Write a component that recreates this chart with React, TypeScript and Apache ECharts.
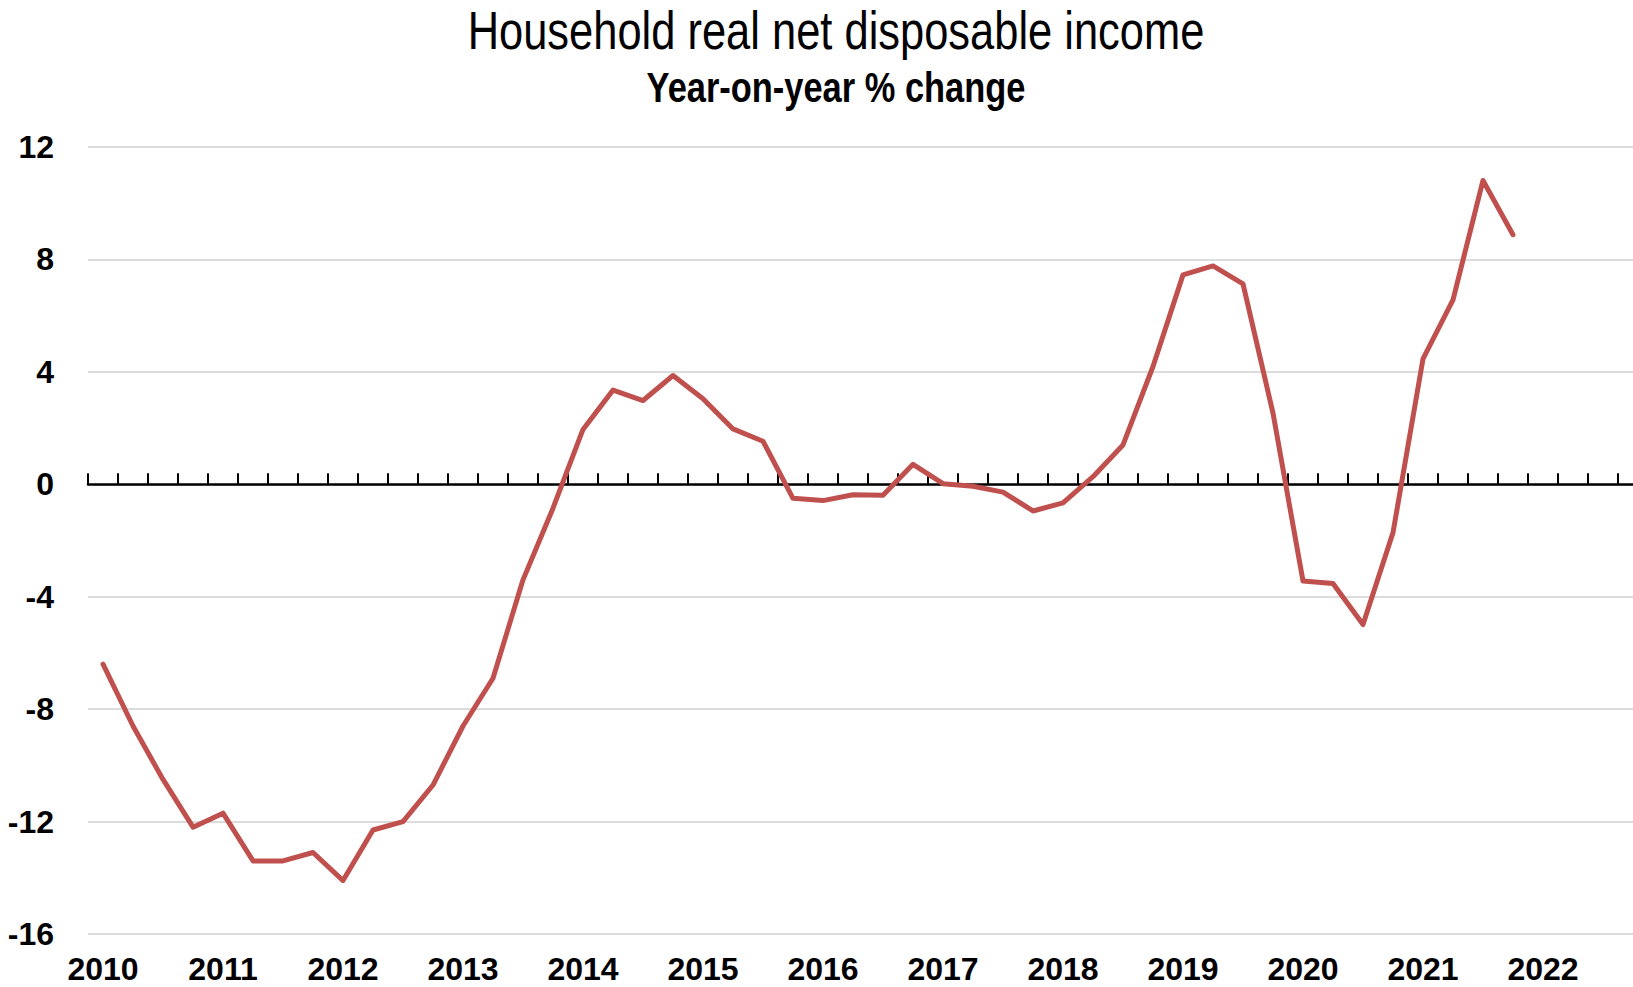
import React, { useEffect, useRef } from "react";
import * as echarts from "echarts";

const years = ["2010", "2011", "2012", "2013", "2014", "2015", "2016", "2017", "2018", "2019", "2020", "2021", "2022"];
const quarters = ["Q1", "Q2", "Q3", "Q4"];
const categories: string[] = years.flatMap((y) => quarters.map((q) => `${y} ${q}`));

// Year-on-year % change, quarterly from 2010 Q1 to 2021 Q4
const incomeChange = [
  -6.4, -8.6, -10.5, -12.2,
  -11.7, -13.4, -13.4, -13.1,
  -14.1, -12.3, -12.0, -10.7,
  -8.6, -6.9, -3.4, -0.85,
  1.95, 3.35, 2.98, 3.87,
  3.04, 1.97, 1.53, -0.5,
  -0.58, -0.37, -0.39, 0.71,
  0.02, -0.07, -0.28, -0.95,
  -0.66, 0.27, 1.4, 4.19,
  7.45, 7.77, 7.13, 2.53,
  -3.44, -3.53, -4.99, -1.72,
  4.46, 6.56, 10.81, 8.88,
];

const yTicks = { min: -16, max: 12, interval: 4 };

const FONT = "'Liberation Sans', Arial, sans-serif";

export default function App() {
  const ref = useRef<HTMLDivElement>(null);
  useEffect(() => {
    if (!ref.current) return;
    const chart = echarts.init(ref.current, undefined, { renderer: "svg" });
    chart.setOption({
      animation: false,
      backgroundColor: "#ffffff",
      graphic: [
        {
          type: "text",
          x: 836,
          y: 30,
          scaleX: 0.82,
          style: {
            text: "Household real net disposable income",
            fontFamily: FONT,
            fontSize: 53,
            fontWeight: "normal",
            fill: "#000000",
            textAlign: "center",
            textVerticalAlign: "middle",
          },
        },
        {
          type: "text",
          x: 836,
          y: 87,
          scaleX: 0.82,
          style: {
            text: "Year-on-year % change",
            fontFamily: FONT,
            fontSize: 42,
            fontWeight: "bold",
            fill: "#000000",
            textAlign: "center",
            textVerticalAlign: "middle",
          },
        },
      ],
      grid: { left: 88, right: -15, top: 147, bottom: 53, containLabel: false, outerBoundsMode: "none" },
      xAxis: [
        {
          type: "category",
          data: categories,
          position: "bottom",
          boundaryGap: true,
          axisLine: { show: true, onZero: true, lineStyle: { color: "#000000", width: 2.5 } },
          axisTick: { show: true, inside: true, length: 11, interval: 0, lineStyle: { color: "#000000", width: 2 } },
          axisLabel: { show: false },
          splitLine: { show: false },
        },
        {
          type: "category",
          data: categories,
          position: "bottom",
          boundaryGap: true,
          axisLine: { show: false, onZero: false },
          axisTick: { show: false },
          axisLabel: {
            show: true,
            interval: 3,
            margin: 19,
            formatter: (v: string) => v.slice(0, 4),
            fontFamily: FONT,
            fontSize: 32,
            fontWeight: "bold",
            color: "#000000",
          },
          splitLine: { show: false },
        },
      ],
      yAxis: {
        type: "value",
        min: yTicks.min,
        max: yTicks.max,
        interval: yTicks.interval,
        axisLine: { show: false },
        axisTick: { show: false },
        axisLabel: {
          margin: 34,
          fontFamily: FONT,
          fontSize: 32,
          fontWeight: "bold",
          color: "#000000",
        },
        splitLine: { show: true, lineStyle: { color: "#d0d0d0", width: 1.6 } },
      },
      series: [
        {
          type: "line",
          xAxisIndex: 0,
          data: incomeChange,
          showSymbol: false,
          symbol: "none",
          lineStyle: { color: "#C0504D", width: 5, cap: "round", join: "round" },
          z: 3,
        },
      ],
    });
    return () => chart.dispose();
  }, []);
  return <div ref={ref} style={{ position: "absolute", left: 0, top: 0, width: 1633, height: 987 }} />;
}
